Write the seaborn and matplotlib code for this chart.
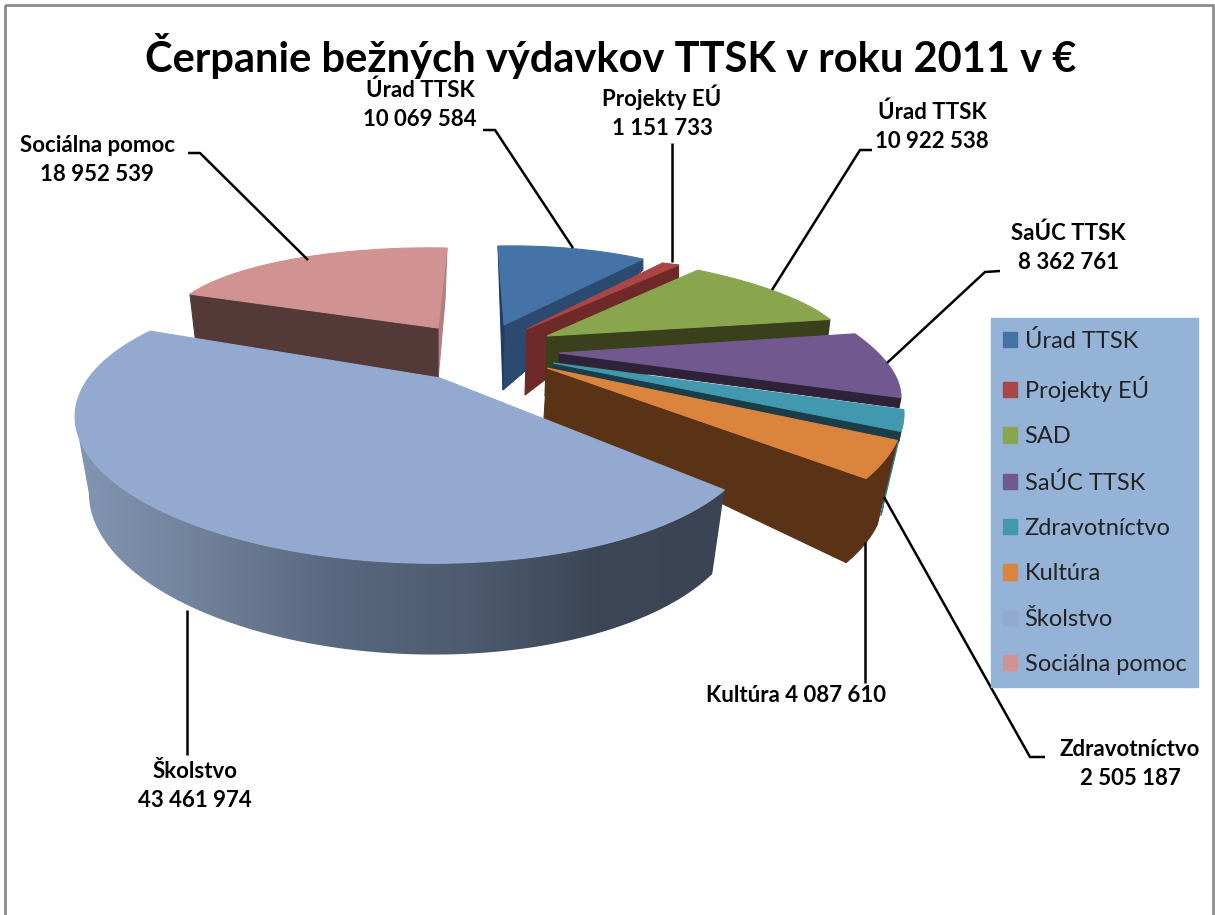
import numpy as np
import matplotlib
matplotlib.use("Agg")
import matplotlib.pyplot as plt
from matplotlib.colors import ListedColormap
from matplotlib.patches import Patch, Polygon, Rectangle
import seaborn as sns

# data
categories = ["Úrad TTSK", "Projekty EÚ", "SAD", "SaÚC TTSK", "Zdravotníctvo", "Kultúra", "Školstvo", "Sociálna pomoc"]
label_names = ["Úrad TTSK", "Projekty EÚ", "Úrad TTSK", "SaÚC TTSK", "Zdravotníctvo", "Kultúra", "Školstvo", "Sociálna pomoc"]
values = [10069584, 1151733, 10922538, 8362761, 2505187, 4087610, 43461974, 18952539]
title = "Čerpanie bežných výdavkov TTSK v roku 2011 v €"

# colours
top_colors = ["#4572a7", "#aa4643", "#89a54e", "#71588f", "#4198af", "#db843d", "#93a9cf", "#d19392"]
wall_colors = ["#2c4a70", "#6e2a28", "#3a3f1c", "#2e2238", "#1c3d47", "#5a3216", "#3a4556", "#533938"]

# hand tuned 3d look: apex of each slice and the two axes of its projected circle
apex = [(504, 325), (527, 329), (547, 336), (559, 353), (553, 363), (547, 368), (440, 378), (438, 328)]
axis_u = [(242, -4), (262, -19), (297, -2), (321, 2), (325, -6), (343, -15), None, (270, 5)]
axis_v = [(-6, -79), (-25, -68), (-56, -85), (-118, -123), (-132, -150), (-105, -174), None, (9, -80)]
depth_apex = [65, 66, 60, 9, 7, 51, 0, 52]
depth_rim = [11, 13, 16, 10, 10, 84, 0, 50]
apex_shift = [-1, -2, -2, 0, 0, -3, 0, 0]
rim_shift = [0, 0, -2, -2, -2, -20, 0, 0]

# Školstvo is big enough to need a tilted ellipse
ell_center = (416, 424)
ell_rx, ell_ry, ell_tilt = 341, 139, np.radians(1.5)
ell_phi0, ell_scale = 24.6, 1.231

sns.set_theme(style="white")
plt.rcParams["font.family"] = ["Lato", "DejaVu Sans"]
palette = sns.color_palette(top_colors)

fig = plt.figure(figsize=(12.15, 9.15), dpi=100)
ax = fig.add_axes([0, 0, 1, 1])
ax.axis("off")

ax.add_patch(Rectangle((5, 5), 1208, 930, fill=False, ec="#8c8c8c", lw=2))

shares = np.array(values) / np.sum(values) * 360
ends = np.cumsum(shares)
starts = ends - shares


def rim(i, n=40):
    th = np.radians(np.linspace(starts[i], ends[i], n))
    u, v = np.sin(th), np.cos(th)
    return np.column_stack([
        apex[i][0] + axis_u[i][0] * u + axis_v[i][0] * v,
        apex[i][1] + axis_u[i][1] * u + axis_v[i][1] * v,
    ])


def school_rim(i, n=160):
    th = np.linspace(starts[i], ends[i], n)
    phi = np.radians(ell_phi0 + ell_scale * (th - starts[i]))
    ex, ey = ell_rx * np.cos(phi), ell_ry * np.sin(phi)
    return np.column_stack([
        ell_center[0] + ex * np.cos(ell_tilt) - ey * np.sin(ell_tilt),
        ell_center[1] + ex * np.sin(ell_tilt) + ey * np.cos(ell_tilt),
    ])


def poly(points, color, z):
    points = np.asarray(points)
    ax.fill(points[:, 0], points[:, 1], color=color, lw=0.8, zorder=z)


# small slices, back to front
for i in [7, 0, 1, 2, 3, 4, 5]:
    r = rim(i)
    a = np.array(apex[i], dtype=float)
    a_low = a + [apex_shift[i], depth_apex[i]]
    if i == 7:
        # Sociálna pomoc: wall under its left edge, pale wall on the right
        low = r[0] + [6, depth_rim[i]]
        poly([r[-1], a, a_low, r[-1] + [-2, 52]], "#b27e7e", 2 + i * 0.01)
        poly([a, r[0], low, a_low], wall_colors[i], 2 + i * 0.01)
    else:
        # the wall hangs from the edge at the end of the slice
        low = r[-1] + [rim_shift[i], depth_rim[i]]
        poly([a, r[-1], low, a_low], wall_colors[i], 2 + i * 0.01)
    if i == 0:
        poly([r[0], a, a_low], "#1f3d63", 2.001)
    if i == 4:
        poly(np.vstack([r, (r + [-20, 84])[::-1]]), "#2f8094", 2.03)
    if i == 5:
        poly(np.vstack([r, (r + [-20, 84])[::-1]]), wall_colors[i], 2.04)
    poly(np.vstack([a, r]), palette[i], 3 + i * 0.01)

# Školstvo goes on top of everything else
i = 6
r = school_rim(i)
off = np.column_stack([-(r[:, 0] - 420) * 0.04, 80 + 0.1 * (r[:, 1] - 450)])
low = r + off
# wall only runs as far as the leftmost rim point, from there the silhouette is straight
k = np.argmin(r[:, 0]) + 1
ramp = ListedColormap(sns.blend_palette(["#8296b4", "#708098", "#586880", "#4e5b70", "#3c4657", "#3a4454"], 256))
side = ax.imshow(np.linspace(0, 1, 256)[None, :], cmap=ramp, aspect="auto", zorder=4,
                 extent=(r[:, 0].min(), r[:, 0].max(), low[:, 1].max(), r[:, 1].min()))
outline = Polygon(np.vstack([r[:k], low[:k][::-1]]), closed=True, transform=ax.transData, fc="none", ec="none")
ax.add_patch(outline)
side.set_clip_path(outline)
poly(np.vstack([apex[i], r]), palette[i], 5)

# data labels
txt = [f"{v:,}".replace(",", " ") for v in values]
label_xy = [(420, 105), (662, 112), (932, 127), (1068, 248), (1130, 764), (796, 696), (195, 786), (97, 160)]
for i, (x, y) in enumerate(label_xy):
    sep = " " if label_names[i] == "Kultúra" else "\n"
    ax.text(x, y, label_names[i] + sep + txt[i], ha="center", va="center", fontsize=16,
            fontweight="bold", color="black", linespacing=1.45, zorder=8)

# leader lines
leaders = [
    [(483, 130), (495, 130), (573, 248)],
    [(672, 143), (672, 262)],
    [(872, 150), (860, 150), (772, 290)],
    [(1000, 271), (985, 272), (887, 363)],
    [(1045, 757), (1030, 757), (884, 497)],
    [(865, 542), (865, 683)],
    [(187, 610), (187, 755)],
    [(188, 153), (200, 153), (308, 260)],
]
for line in leaders:
    pts = np.array(line)
    ax.plot(pts[:, 0], pts[:, 1], color="black", lw=1.8, solid_capstyle="butt", zorder=6)

ax.text(611, 56, title, ha="center", va="center", fontsize=30, fontweight="bold", color="black", zorder=8)

handles = [Patch(color=palette[i], label=categories[i]) for i in range(len(categories))]
leg = ax.legend(handles=handles, loc="upper left", bbox_to_anchor=(991 / 1215, 1 - 318 / 915),
                borderaxespad=0, fontsize=17, frameon=True, fancybox=False, framealpha=1,
                facecolor="#95b3d7", edgecolor="#95b3d7", labelcolor="#222222",
                handlelength=0.62, handleheight=0.62, handletextpad=0.3,
                labelspacing=1.03, borderpad=0.5)
leg.set_zorder(7)

ax.set_xlim(0, 1215)
ax.set_ylim(915, 0)
fig.savefig("out.png", dpi=100)
